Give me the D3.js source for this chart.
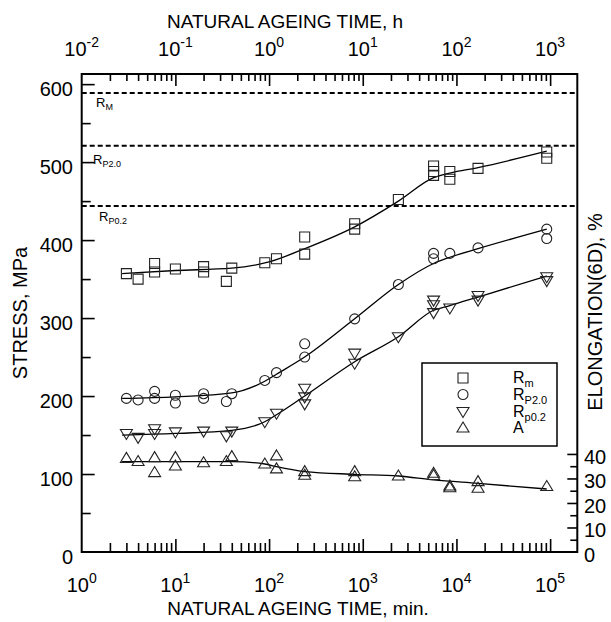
<!DOCTYPE html>
<html>
<head>
<meta charset="utf-8">
<script src="https://cdn.jsdelivr.net/npm/d3@7"></script>
<style>
  body { margin: 0; background: #fff; }
  svg { font-family: "Liberation Sans", Arial, Helvetica, sans-serif; }
</style>
</head>
<body>
<svg width="611" height="622"></svg>
<script>
// measured points [time in min, value]
const rmPoints = [[3,357],[4,350],[6,370],[6,359],[10,363],[20,366],[20,359],[35,347],[40,364],[90,371],[120,376],
  [240,404],[240,382],[820,421],[820,414],[2400,452],[5700,495],[5700,488],[5700,483],[8500,488],[8500,478],
  [17000,492],[92000,513],[92000,505]];
const rp20Points = [[3,197],[4,195],[6,206],[6,197],[10,201],[10,191],[20,203],[20,197],[35,193],[40,203],[90,220],
  [120,230],[240,267],[240,250],[820,299],[2400,343],[5700,383],[5700,376],[8500,383],[17000,390],[92000,414],[92000,402]];
const rp02Points = [[3,152],[4,147],[6,158],[6,152],[10,154],[20,155],[35,149],[40,155],[90,167],[120,178],
  [240,210],[240,199],[240,190],[820,255],[820,242],[2400,276],[5700,323],[5700,317],[5700,307],[8500,313],
  [17000,329],[17000,323],[92000,353],[92000,348]];
// elongation in %
const aPoints = [[3,38.2],[4,36.9],[6,38.5],[6,32.4],[10,38.5],[10,35.1],[20,36.4],[35,36.9],[40,38.9],[90,35.9],
  [120,39.2],[120,33.9],[240,32.8],[240,31.3],[820,32.8],[820,30.7],[2400,31.0],[5700,32.1],[5700,31.2],
  [8500,26.9],[8500,26.2],[17000,28.7],[17000,26.0],[92000,26.7]];

// fitted curves
const rmFit = [[2.7,357],[10,361],[40,364],[100,372],[240,389],[820,417],[2400,450],[5700,480],[8500,486],[17000,493],[92000,514]];
const rp20Fit = [[2.7,197],[10,199],[40,204],[90,219],[120,228],[240,250],[820,299],[2400,343],[5700,370],[8500,378],[17000,389],[92000,414]];
const rp02Fit = [[2.7,150],[10,152],[40,156],[90,167],[120,176],[240,200],[820,244],[2400,276],[5700,310],[8500,316],[17000,327],[92000,354]];
const aFit = [[2.7,36.9],[40,36.9],[90,35.9],[120,34.8],[240,32.8],[820,31.7],[2400,31.0],[5700,29.4],[17000,28.0],[92000,25.7]];

// reference levels
const refLevels = [588.5, 521, 443.6];
const refNames = [["R","M"],["R","P2.0"],["R","P0.2"]];

const stressTicks = [0,100,200,300,400,500,600];
const elongTicks = [0,10,20,30,40];
const minDecades = [0,1,2,3,4,5];
const hourDecades = [-2,-1,0,1,2,3];

const legendNames = [["R","m"],["R","P2.0"],["R","p0.2"],["A",""]];

const svg = d3.select("svg");
const L = 81.7, R = 577.3, T = 74, B = 552;

const x = d3.scaleLog().domain([1, 195000]).range([L, R]);
const xh = d3.scaleLog().domain([0.01, 1950]).range([L, R]);
const y = d3.scaleLinear().domain([0, 613]).range([B, T]);
const y2 = d3.scaleLinear().domain([0, 195]).range([B, T]);

function minorTicks(scale) {
  const [a, b] = scale.domain();
  const out = [];
  for (let e = Math.floor(Math.log10(a)); e <= Math.ceil(Math.log10(b)); e++) {
    for (let m = 2; m <= 9; m++) {
      const v = m * Math.pow(10, e);
      if (v > a && v < b) out.push(v);
    }
  }
  return out;
}

function styleAxis(g) {
  g.select(".domain").remove();
  g.selectAll(".tick line").attr("stroke", "#000").attr("stroke-width", 1.6);
  g.selectAll(".tick text").remove();
}

// bottom axis (min)
svg.append("g").attr("transform", `translate(0,${B})`)
  .call(d3.axisBottom(x).tickValues(minorTicks(x)).tickSize(-9)).call(styleAxis);
svg.append("g").attr("transform", `translate(0,${B})`)
  .call(d3.axisBottom(x).tickValues(minDecades.map(e => Math.pow(10, e)).filter(v => v > 1)).tickSize(-13)).call(styleAxis);

// top axis (h)
svg.append("g").attr("transform", `translate(0,${T})`)
  .call(d3.axisTop(xh).tickValues(minorTicks(xh)).tickSize(-7)).call(styleAxis);
svg.append("g").attr("transform", `translate(0,${T})`)
  .call(d3.axisTop(xh).tickValues(hourDecades.map(e => Math.pow(10, e)).filter(v => v > 0.01)).tickSize(-12)).call(styleAxis);

// left axis (stress)
svg.append("g").attr("transform", `translate(${L},0)`)
  .call(d3.axisLeft(y).tickValues(d3.range(50, 600, 100)).tickSize(-9)).call(styleAxis);
svg.append("g").attr("transform", `translate(${L},0)`)
  .call(d3.axisLeft(y).tickValues(stressTicks.filter(v => v > 0)).tickSize(-13)).call(styleAxis);

// right axis (elongation)
svg.append("g").attr("transform", `translate(${R},0)`)
  .call(d3.axisRight(y2).tickValues([5,15,25,35]).tickSize(-7)).call(styleAxis);
svg.append("g").attr("transform", `translate(${R},0)`)
  .call(d3.axisRight(y2).tickValues(elongTicks.filter(v => v > 0)).tickSize(-10)).call(styleAxis);

// frame
svg.append("rect").attr("x", L).attr("y", T).attr("width", R - L).attr("height", B - T)
  .attr("fill", "none").attr("stroke", "#000").attr("stroke-width", 2);

// tick labels
function powerLabel(px, py, e) {
  const t = svg.append("text").attr("x", px).attr("y", py)
    .attr("text-anchor", "middle").attr("font-size", 20);
  t.append("tspan").text("10");
  t.append("tspan").attr("dy", -9).attr("font-size", 14).text(e);
}
minDecades.forEach(e => powerLabel(x(Math.pow(10, e)), 592, e));
hourDecades.forEach(e => powerLabel(xh(Math.pow(10, e)), 56, e));

svg.selectAll(".ylab").data(stressTicks).enter().append("text")
  .attr("x", 73).attr("y", d => y(d) + 12).attr("text-anchor", "end")
  .attr("font-size", 20).text(d => d);
svg.selectAll(".y2lab").data(elongTicks).enter().append("text")
  .attr("x", 584).attr("y", d => y2(d) + 10).attr("text-anchor", "start")
  .attr("font-size", 20).text(d => d);

// titles
svg.append("text").attr("x", 285).attr("y", 28).attr("text-anchor", "middle")
  .attr("font-size", 19).text("NATURAL AGEING TIME, h");
svg.append("text").attr("x", 298).attr("y", 615).attr("text-anchor", "middle")
  .attr("font-size", 19).text("NATURAL AGEING TIME, min.");
svg.append("text").attr("transform", "translate(27,313) rotate(-90)").attr("text-anchor", "middle")
  .attr("font-size", 20).text("STRESS, MPa");
svg.append("text").attr("transform", "translate(602,312) rotate(-90)").attr("text-anchor", "middle")
  .attr("font-size", 20).text("ELONGATION(6D), %");

// dashed reference lines
svg.selectAll(".ref").data(refLevels).enter().append("line")
  .attr("x1", L).attr("x2", R).attr("y1", d => y(d)).attr("y2", d => y(d))
  .attr("stroke", "#000").attr("stroke-width", 2).attr("stroke-dasharray", "5,3");

const refLabelPos = [[96, 107], [93, 164], [99, 221]];
refNames.forEach((n, i) => {
  const t = svg.append("text").attr("x", refLabelPos[i][0]).attr("y", refLabelPos[i][1]).attr("font-size", 13);
  t.append("tspan").text(n[0]);
  t.append("tspan").attr("dy", 3).attr("font-size", 9).text(n[1]);
});

// curves
const lineS = d3.line().x(d => x(d[0])).y(d => y(d[1])).curve(d3.curveMonotoneX);
const lineE = d3.line().x(d => x(d[0])).y(d => y2(d[1])).curve(d3.curveMonotoneX);
[rmFit, rp20Fit, rp02Fit].forEach(f => {
  svg.append("path").attr("d", lineS(f)).attr("fill", "none").attr("stroke", "#000").attr("stroke-width", 1.3);
});
svg.append("path").attr("d", lineE(aFit)).attr("fill", "none").attr("stroke", "#000").attr("stroke-width", 1.3);

// markers
const shapes = {
  square: "M-5,-5H5V5H-5Z",
  circle: "M5,0A5,5 0 1,1 -5,0A5,5 0 1,1 5,0Z",
  down: "M-6,-4H6L0,6Z",
  up: "M0,-6L6,4H-6Z"
};
function markers(data, yScale, shape) {
  svg.append("g").selectAll("path").data(data).enter().append("path")
    .attr("d", shapes[shape])
    .attr("transform", d => `translate(${x(d[0])},${yScale(d[1])})`)
    .attr("fill", "none").attr("stroke", "#222").attr("stroke-width", 1.1);
}
markers(rmPoints, y, "square");
markers(rp20Points, y, "circle");
markers(rp02Points, y, "down");
markers(aPoints, y2, "up");

// legend
const lg = svg.append("g");
lg.append("rect").attr("x", 422).attr("y", 363).attr("width", 135).attr("height", 83)
  .attr("fill", "#fff").attr("stroke", "#000").attr("stroke-width", 1.5);
const legendShapes = ["square", "circle", "down", "up"];
const legendRows = [378, 394.5, 411.5, 428];
legendShapes.forEach((s, i) => {
  lg.append("path").attr("d", shapes[s]).attr("transform", `translate(463,${legendRows[i]})`)
    .attr("fill", "none").attr("stroke", "#222").attr("stroke-width", 1.1);
  const t = lg.append("text").attr("x", 513).attr("y", legendRows[i] + 5).attr("font-size", 16);
  t.append("tspan").text(legendNames[i][0]);
  if (legendNames[i][1]) t.append("tspan").attr("dy", 4).attr("font-size", 11).text(legendNames[i][1]);
});
</script>
</body>
</html>
